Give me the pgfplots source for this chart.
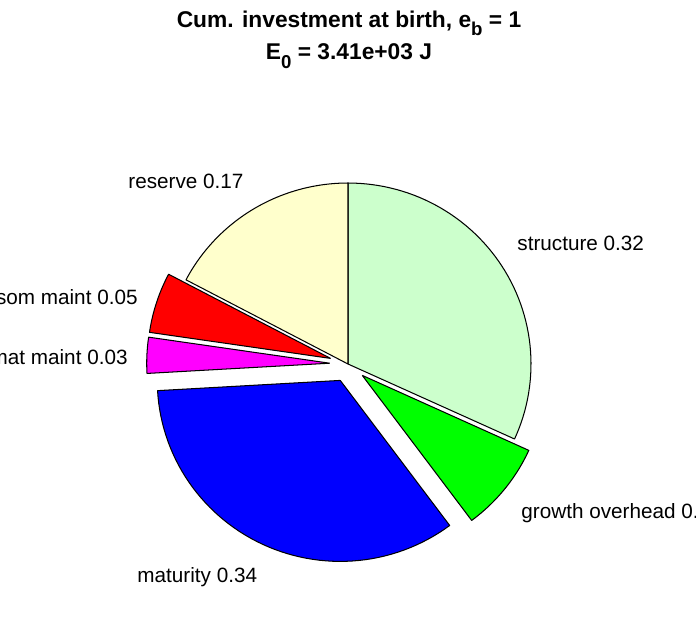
\documentclass[border=0pt]{standalone}
\usepackage{pgfplots}
\pgfplotsset{compat=1.18}
\usepackage{fontspec}
\setmainfont{Liberation Sans}
\definecolor{cstruct}{RGB}{204,255,204}
\definecolor{cgrowth}{RGB}{0,255,0}
\definecolor{cmat}{RGB}{0,0,255}
\definecolor{cmatm}{RGB}{255,0,255}
\definecolor{csomm}{RGB}{255,0,0}
\definecolor{cres}{RGB}{255,255,204}
% pie centre and radii (pixel units)
\def\cx{348}\def\cy{254}\def\Rx{183}\def\Ry{181}
% #1 cumulative fraction before slice, #2 fraction, #3 explode (0/1), #4 colour
\newcommand{\pieslice}[4]{%
  \pgfmathsetmacro\aS{90-360*#1}%
  \pgfmathsetmacro\aE{90-360*(#1+#2)}%
  \pgfmathsetmacro\oX{\cx+#3*0.1*\Rx*cos((\aS+\aE)/2)}%
  \pgfmathsetmacro\oY{\cy+#3*0.1*\Ry*sin((\aS+\aE)/2)}%
  \addplot[fill=#4, draw=black, line width=0.5pt, line join=round,
    samples at={-1,0,...,61}, variable=\t]
    ({\oX + ((\t<0 || \t>60) ? 0 : \Rx*cos(\aS+(\aE-\aS)*\t/60))},
     {\oY + ((\t<0 || \t>60) ? 0 : \Ry*sin(\aS+(\aE-\aS)*\t/60))});
}
\begin{document}
\begin{tikzpicture}[x=0.483pt,y=0.483pt]
\useasboundingbox (0,0) rectangle (696,618);
\clip (0,0) rectangle (696,618);
\fill[white] (0,0) rectangle (696,618);
\begin{axis}[at={(0,0)}, anchor=south west, scale only axis,
  width=336.17pt, height=298.49pt,
  xmin=0, xmax=696, ymin=0, ymax=618,
  hide axis, clip=false]
% fractions: structure 0.318, growth overhead 0.080, maturity 0.343,
% mat maint 0.032, som maint 0.054, reserve 0.173
\pieslice{0}{0.318}{0}{cstruct}
\pieslice{0.318}{0.080}{1}{cgrowth}
\pieslice{0.398}{0.343}{1}{cmat}
\pieslice{0.741}{0.032}{1}{cmatm}
\pieslice{0.773}{0.054}{1}{csomm}
\pieslice{0.827}{0.173}{0}{cres}
\node[anchor=west, inner sep=0pt, font=\fontsize{10}{12}\selectfont] at (axis cs:128,437) {reserve 0.17};
\node[anchor=west, inner sep=0pt, font=\fontsize{10}{12}\selectfont] at (axis cs:517,375) {structure 0.32};
\node[anchor=east, inner sep=0pt, font=\fontsize{10}{12}\selectfont] at (axis cs:138,321) {som maint 0.05};
\node[anchor=east, inner sep=0pt, font=\fontsize{10}{12}\selectfont] at (axis cs:128,261) {mat maint 0.03};
\node[anchor=west, inner sep=0pt, font=\fontsize{10}{12}\selectfont] at (axis cs:521,105) {growth overhead 0.08};
\node[anchor=west, inner sep=0pt, font=\fontsize{10}{12}\selectfont] at (axis cs:137,41) {maturity 0.34};
\node[font=\fontsize{11}{13}\selectfont\bfseries] at (axis cs:349,595)
  {Cum. investment at birth, e\raisebox{-4pt}{\fontsize{9}{9}\selectfont b} = 1};
\node[font=\fontsize{11}{13}\selectfont\bfseries] at (axis cs:349,562)
  {E\raisebox{-4pt}{\fontsize{9}{9}\selectfont 0} = 3.41e+03 J};
\end{axis}
\end{tikzpicture}
\end{document}
